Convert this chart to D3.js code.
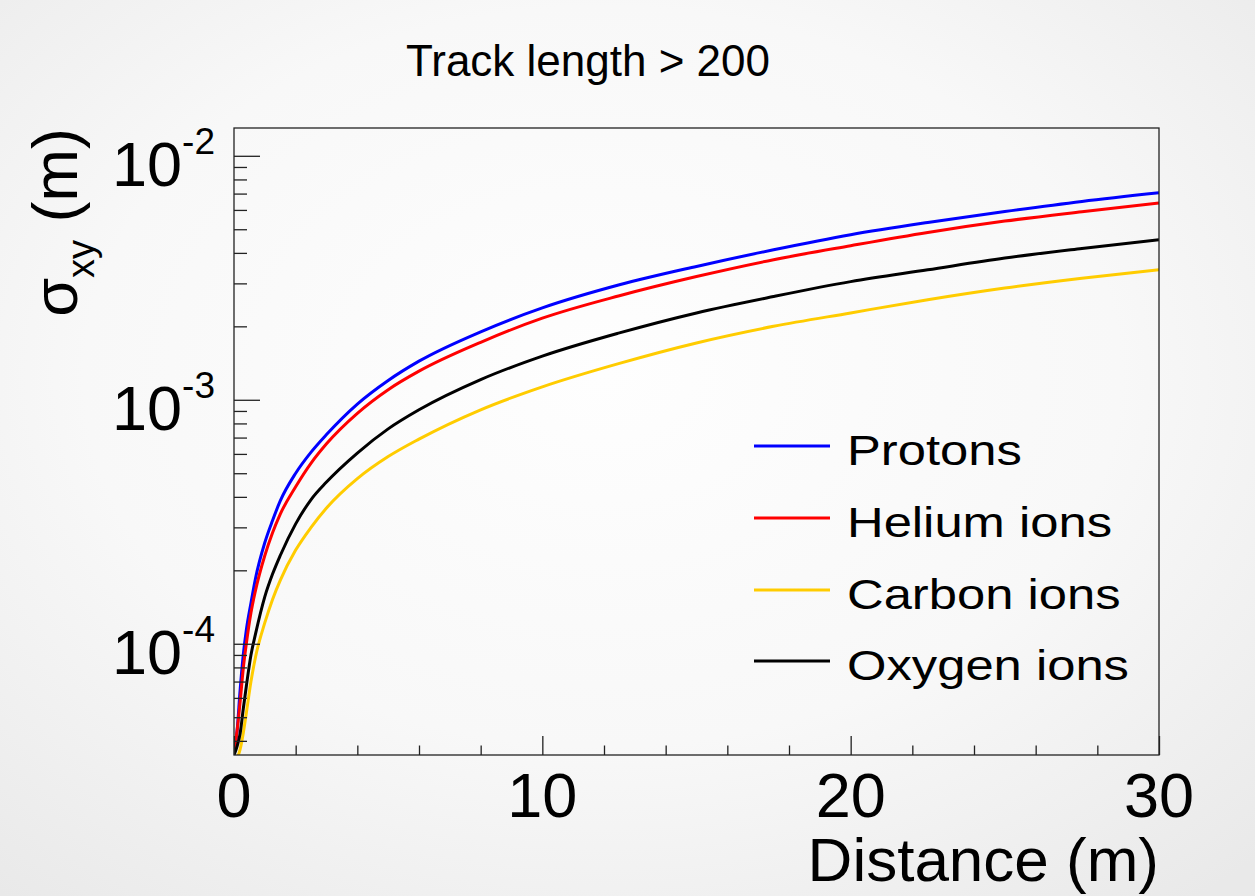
<!DOCTYPE html>
<html>
<head>
<meta charset="utf-8">
<script src="https://cdn.jsdelivr.net/npm/d3@7"></script>
<style>
  html, body { margin: 0; padding: 0; background: #f3f3f3; }
  svg { display: block; font-family: "Liberation Sans", Arial, Helvetica, sans-serif; }
</style>
</head>
<body>
<svg id="chart" width="1255" height="896"></svg>
<script>
// ---- data ----
const distance = [0, 0.1, 0.2, 0.3, 0.4, 0.55, 0.7, 1, 1.25, 1.5, 2, 2.5, 3, 4, 5, 6, 8, 10, 12.5, 15, 17.5, 20, 22.5, 25, 27.5, 30];
const protons  = [3.6e-5, 4.4e-5, 6.5e-5, 9.0e-5, 1.14e-4, 1.47e-4, 1.86e-4, 2.6e-4, 3.2e-4, 3.85e-4, 5.0e-4, 6.1e-4, 7.2e-4, 9.6e-4, 1.2e-3, 1.44e-3, 1.9e-3, 2.38e-3, 2.96e-3, 3.52e-3, 4.12e-3, 4.75e-3, 5.33e-3, 5.91e-3, 6.5e-3, 7.05e-3];
const helium   = [3.6e-5, 4.4e-5, 5.8e-5, 7.9e-5, 1.0e-4, 1.34e-4, 1.66e-4, 2.3e-4, 2.85e-4, 3.4e-4, 4.4e-4, 5.5e-4, 6.6e-4, 8.8e-4, 1.1e-3, 1.31e-3, 1.72e-3, 2.16e-3, 2.67e-3, 3.2e-3, 3.75e-3, 4.28e-3, 4.85e-3, 5.4e-3, 5.9e-3, 6.41e-3];
const carbon   = [3.3e-5, 3.4e-5, 3.7e-5, 4.3e-5, 5.2e-5, 7.0e-5, 8.85e-5, 1.22e-4, 1.52e-4, 1.82e-4, 2.42e-4, 3.0e-4, 3.6e-4, 4.75e-4, 5.85e-4, 6.9e-4, 9.1e-4, 1.13e-3, 1.41e-3, 1.71e-3, 2.0e-3, 2.27e-3, 2.57e-3, 2.87e-3, 3.15e-3, 3.41e-3];
const oxygen   = [3.5e-5, 3.8e-5, 4.3e-5, 5.4e-5, 6.7e-5, 9.0e-5, 1.1e-4, 1.56e-4, 1.93e-4, 2.3e-4, 3.1e-4, 3.9e-4, 4.6e-4, 6.05e-4, 7.6e-4, 9.1e-4, 1.21e-3, 1.51e-3, 1.88e-3, 2.27e-3, 2.65e-3, 3.05e-3, 3.41e-3, 3.81e-3, 4.17e-3, 4.53e-3];

const seriesNames  = ["Protons", "Helium ions", "Carbon ions", "Oxygen ions"];
const seriesValues = [protons, helium, carbon, oxygen];
const seriesColors = ["#0000ff", "#ff0000", "#ffcc00", "#000000"];

const xDomain = [0, 30];
const yDomain = [3.5e-5, 1.3e-2];
const xMajorTicks = [0, 10, 20, 30];
const xMinorTicks = [2, 4, 6, 8, 12, 14, 16, 18, 22, 24, 26, 28];
const yMajorTicks = [1e-4, 1e-3, 1e-2];
const yMajorLabels = [["10", "-4"], ["10", "-3"], ["10", "-2"]];
const yMinorTicks = [4e-5,5e-5,6e-5,7e-5,8e-5,9e-5,
                     2e-4,3e-4,4e-4,5e-4,6e-4,7e-4,8e-4,9e-4,
                     2e-3,3e-3,4e-3,5e-3,6e-3,7e-3,8e-3,9e-3];

const titleText = "Track length > 200";
const xTitle = "Distance (m)";

// ---- layout ----
const W = 1255, H = 896;
const plot = { left: 234, right: 1159, top: 128, bottom: 755 };

const svg = d3.select("#chart");

// background gradient
const defs = svg.append("defs");
const grad = defs.append("radialGradient").attr("id", "bg")
  .attr("cx", "48%").attr("cy", "42%").attr("r", "75%");
grad.append("stop").attr("offset", "0%").attr("stop-color", "#fefefe");
grad.append("stop").attr("offset", "55%").attr("stop-color", "#f8f8f8");
grad.append("stop").attr("offset", "100%").attr("stop-color", "#e9e9e9");
svg.append("rect").attr("width", W).attr("height", H).attr("fill", "url(#bg)");

defs.append("clipPath").attr("id", "clip").append("rect")
  .attr("x", plot.left).attr("y", plot.top)
  .attr("width", plot.right - plot.left).attr("height", plot.bottom - plot.top);

const x = d3.scaleLinear().domain(xDomain).range([plot.left, plot.right]);
const y = d3.scaleLog().domain(yDomain).range([plot.bottom, plot.top]);

// curves
const line = d3.line().x(d => x(d[0])).y(d => y(d[1])).curve(d3.curveMonotoneX);
const curves = svg.append("g").attr("clip-path", "url(#clip)");
seriesValues.forEach((vals, i) => {
  curves.append("path")
    .datum(distance.map((d, k) => [d, vals[k]]))
    .attr("d", line)
    .attr("fill", "none")
    .attr("stroke", seriesColors[i])
    .attr("stroke-width", 3)
    .attr("stroke-linejoin", "round");
});

// axes (ticks inside)
const axisStyle = g => {
  g.select(".domain").remove();
  g.selectAll(".tick line").attr("stroke", "#222").attr("stroke-width", 1.3);
  g.selectAll(".tick text").remove();
};
svg.append("g").attr("transform", `translate(0,${plot.bottom})`)
  .call(d3.axisBottom(x).tickValues(xMajorTicks).tickSize(-19).tickFormat(""))
  .call(axisStyle);
svg.append("g").attr("transform", `translate(0,${plot.bottom})`)
  .call(d3.axisBottom(x).tickValues(xMinorTicks).tickSize(-9.5).tickFormat(""))
  .call(axisStyle);
svg.append("g").attr("transform", `translate(${plot.left},0)`)
  .call(d3.axisLeft(y).tickValues(yMajorTicks).tickSize(-26).tickFormat(""))
  .call(axisStyle);
svg.append("g").attr("transform", `translate(${plot.left},0)`)
  .call(d3.axisLeft(y).tickValues(yMinorTicks).tickSize(-13).tickFormat(""))
  .call(axisStyle);

// frame
svg.append("rect")
  .attr("x", plot.left).attr("y", plot.top)
  .attr("width", plot.right - plot.left).attr("height", plot.bottom - plot.top)
  .attr("fill", "none").attr("stroke", "#222").attr("stroke-width", 1.3);

// x tick labels
svg.append("g").selectAll("text").data(xMajorTicks).join("text")
  .attr("x", d => x(d)).attr("y", 817)
  .attr("text-anchor", "middle").attr("font-size", 63).attr("fill", "#000")
  .text(d => d);

// y tick labels with exponent
yMajorTicks.forEach((v, i) => {
  const t = svg.append("text")
    .attr("x", 215).attr("y", y(v) + 30)
    .attr("text-anchor", "end").attr("fill", "#000");
  t.append("tspan").attr("font-size", 63).text(yMajorLabels[i][0]);
  t.append("tspan").attr("font-size", 37).attr("dy", -32).text(yMajorLabels[i][1]);
});

// title
svg.append("text")
  .attr("x", 588).attr("y", 76)
  .attr("text-anchor", "middle").attr("font-size", 44).attr("fill", "#000")
  .text(titleText);

// x axis title
svg.append("text")
  .attr("x", plot.right).attr("y", 881)
  .attr("text-anchor", "end").attr("font-size", 62).attr("fill", "#000")
  .text(xTitle);

// y axis title (rotated)
const yt = svg.append("text")
  .attr("transform", `translate(77,${plot.top}) rotate(-90)`)
  .attr("text-anchor", "end").attr("fill", "#000");
yt.append("tspan").attr("font-size", 63).text("σ");
yt.append("tspan").attr("font-size", 38).attr("dy", 17).text("xy");
yt.append("tspan").attr("font-size", 63).attr("dy", -17).text(" (m)");

// legend
const legY = [465, 537, 609, 680];
const leg = svg.append("g");
seriesNames.forEach((name, i) => {
  leg.append("line")
    .attr("x1", 754).attr("x2", 830)
    .attr("y1", legY[i] - 19).attr("y2", legY[i] - 19)
    .attr("stroke", seriesColors[i]).attr("stroke-width", 3);
  leg.append("text")
    .attr("transform", `translate(847,${legY[i]}) scale(1.18,1)`)
    .attr("font-size", 43).attr("fill", "#000")
    .text(name);
});
</script>
</body>
</html>
